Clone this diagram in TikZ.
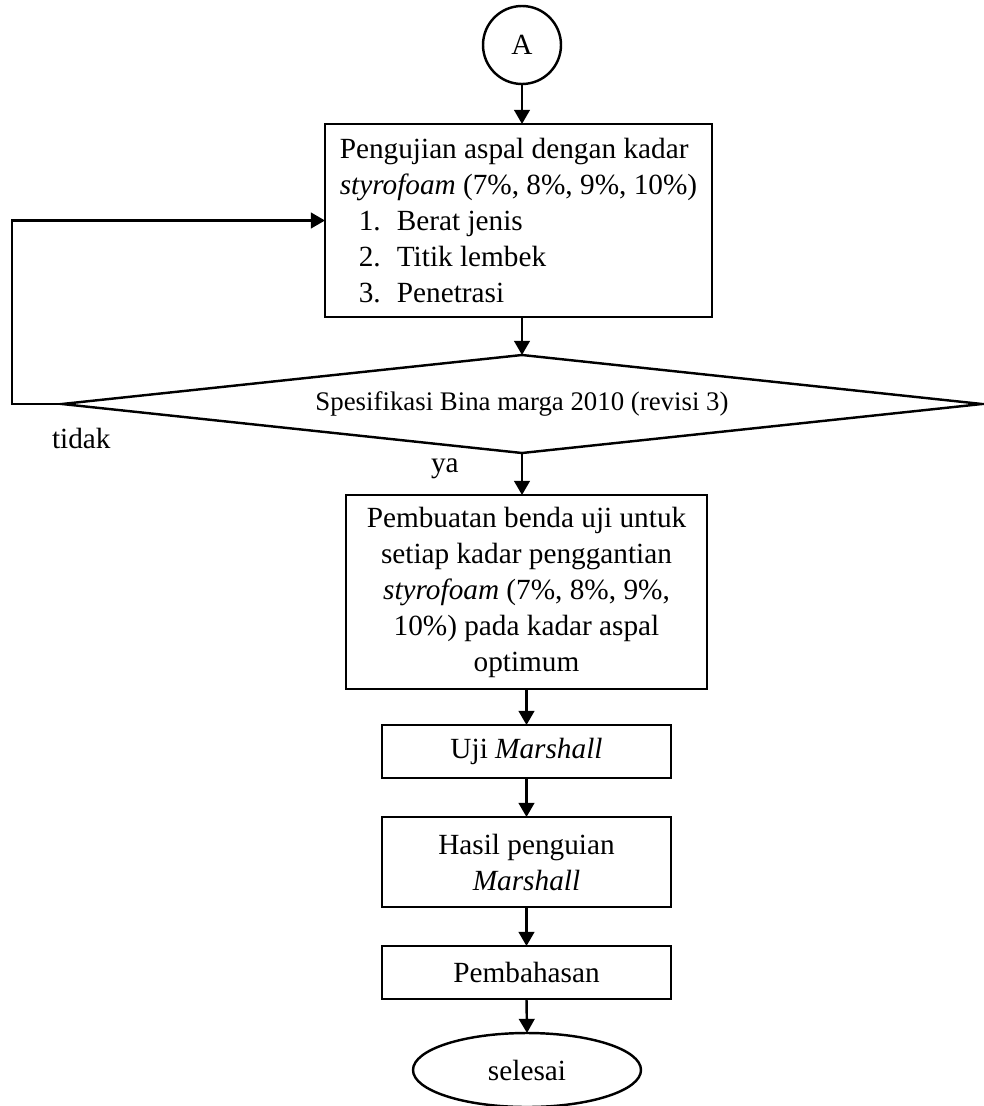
\documentclass[tikz,border=0pt]{standalone}
\usepackage{fontspec}
\setmainfont{Liberation Serif}
\usetikzlibrary{arrows.meta,shapes.geometric}
\begin{document}
\begin{tikzpicture}[x=0.41pt,y=-0.41pt,
  every node/.style={inner sep=0pt, outer sep=0pt},
  txt/.style={font=\fontsize{12}{14.76}\selectfont},
  box/.style={txt, draw, line width=1pt, rectangle},
  arr/.style={line width=1pt, -{Triangle[length=5.8pt,width=6.4pt]}},
  lbl/.style={txt}]
\useasboundingbox (0,0) rectangle (983,1106);

\node[txt, draw, line width=1pt, circle, minimum size=31.98pt] (A) at (522,45) {A};

\node[box, minimum width=158.67pt, minimum height=79.13pt, align=left] (box1) at (518.5,220.5)
 {Pengujian aspal dengan kadar\\
  \textit{styrofoam} (7\%, 8\%, 9\%, 10\%)\\
  \hspace*{7.8pt}\makebox[15.6pt][l]{1.}Berat jenis\\
  \hspace*{7.8pt}\makebox[15.6pt][l]{2.}Titik lembek\\
  \hspace*{7.8pt}\makebox[15.6pt][l]{3.}Penetrasi};

\node[draw, line width=1pt, diamond, aspect=9.39, minimum width=377.2pt, minimum height=40.18pt,
  font=\fontsize{11}{13}\selectfont] (dia) at (522,404) {Spesifikasi Bina marga 2010 (revisi 3)};

\node[lbl, anchor=base west] (tidak) at (52,448) {tidak};
\node[lbl, anchor=base west] (ya) at (431,472) {ya};

\node[box, minimum width=148.01pt, minimum height=79.54pt, align=center] (box2) at (526.5,592)
 {Pembuatan benda uji untuk\\
  setiap kadar penggantian\\
  \textit{styrofoam} (7\%, 8\%, 9\%,\\
  10\%) pada kadar aspal\\
  optimum};

\node[box, minimum width=118.49pt, minimum height=21.73pt] (box3) at (526.5,751.5) {Uji \textit{Marshall}};
\node[box, minimum width=118.49pt, minimum height=36.9pt, align=center] (box4) at (526.5,862)
 {Hasil penguian\\ \textit{Marshall}};
\node[box, minimum width=118.49pt, minimum height=21.73pt] (box5) at (526.5,972.5) {Pembahasan};
\node[txt, draw, line width=1pt, ellipse, minimum width=93.48pt, minimum height=30.34pt] (end) at (527,1070) {selesai};

\draw[arr] (A.south) -- (A.south |- box1.north);
\draw[arr] (dia.north |- box1.south) -- (dia.north);
\draw[arr] (dia.west) -- ++(-50,0) |- (box1.west);
\draw[arr] (dia.south) -- (dia.south |- box2.north);
\draw[arr] (box2.south) -- (box3.north);
\draw[arr] (box3.south) -- (box4.north);
\draw[arr] (box4.south) -- (box5.north);
\draw[arr] (box5.south) -- (end.north);
\end{tikzpicture}
\end{document}
